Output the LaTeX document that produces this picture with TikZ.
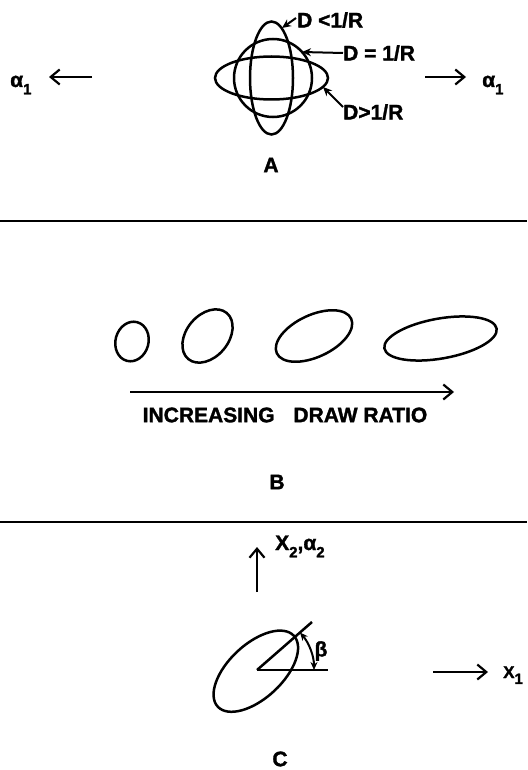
\documentclass[tikz,border=0pt]{standalone}
\usepackage{fontspec}
\setmainfont{Liberation Sans}[BoldFeatures={FakeBold=1.5}]
\usetikzlibrary{arrows.meta}
\newcommand\sbs[1]{\raisebox{-0.35em}{\fontsize{15}{15}\selectfont #1}}
\begin{document}
\begin{tikzpicture}[x=1pt,y=1pt,
  lbl/.style={font=\fontsize{21}{21}\selectfont\bfseries, inner sep=0pt},
  slbl/.style={font=\fontsize{17}{17}\selectfont\bfseries, inner sep=0pt},
  shp/.style={line width=2.5pt},
  sep/.style={line width=2.6pt},
  ax/.style={line width=2.2pt, -{Straight Barb[length=9pt,width=15pt,line width=2.2pt]}},
  ptr/.style={line width=2pt, -{Stealth[length=9pt,width=8pt]}},
  dptr/.style={line width=2pt, {Stealth[length=8pt,width=7pt]}-{Stealth[length=8pt,width=7pt]}},
]
\useasboundingbox (0,0) rectangle (527,-770);
% ---------------- Part A
\draw[shp] (271.5,-78) ellipse[x radius=56.5, y radius=21.5];
\draw[shp] (271.5,-78) ellipse[x radius=21.5, y radius=56.5];
\draw[shp] (273,-78) circle[radius=39];
\coordinate (pv) at (282,-28);
\coordinate (pc) at (302,-52);
\coordinate (ph) at (323,-87);
\node[lbl, anchor=west] (lv) at (297,-20) {D <1/R};
\node[lbl, anchor=west] (lc) at (343,-53) {D = 1/R};
\node[lbl, anchor=west] (lh) at (343,-112) {D>1/R};
\draw[ptr] ([xshift=-1pt,yshift=2pt]lv.west) -- (pv);
\draw[ptr] (lc.west) -- (pc);
\draw[ptr] ([yshift=5pt]lh.west) -- (ph);
\node[lbl] (la) at (271,-165) {A};
\node[lbl, anchor=base west] (al) at (10,-87) {α\sbs{1}};
\coordinate (al0) at (92,-77);
\coordinate (al1) at (49,-77);
\draw[ax] (al0) -- (al1);
\node[lbl, anchor=base west] (ar) at (482,-87) {α\sbs{1}};
\coordinate (ar0) at (425,-77);
\coordinate (ar1) at (466,-77);
\draw[ax] (ar0) -- (ar1);
% separators
\coordinate (s1a) at (0,-221); \coordinate (s1b) at (527,-221);
\coordinate (s2a) at (0,-522); \coordinate (s2b) at (527,-522);
\draw[sep] (s1a) -- (s1b);
\draw[sep] (s2a) -- (s2b);
% ---------------- Part B
\draw[shp, rotate around={75:(132,-341.5)}] (132,-341.5) ellipse[x radius=20, y radius=16.5];
\draw[shp, rotate around={50:(207.5,-336)}] (207.5,-336) ellipse[x radius=30, y radius=21];
\draw[shp, rotate around={25:(314,-336)}] (314,-336) ellipse[x radius=41, y radius=21];
\draw[shp, rotate around={10:(440.5,-338.5)}] (440.5,-338.5) ellipse[x radius=57, y radius=20];
\coordinate (b0) at (130,-392);
\coordinate (b1) at (454,-392);
\draw[ax] (b0) -- (b1);
\node[lbl] (bt) at (285,-415) {INCREASING\hspace{0.9em}DRAW RATIO};
\node[lbl] (lb) at (277,-482) {B};
% ---------------- Part C
\coordinate (o) at (257,-670);
\coordinate (h) at (328,-670);
\coordinate (d) at (312,-622);
\draw[shp, rotate around={43:(255.8,-671.2)}] (255.8,-671.2) ellipse[x radius=52, y radius=27];
\draw[shp] (o) -- (h);
\draw[shp] (o) -- (d);
\draw[dptr] ([shift={(0:57)}]o) arc[start angle=0, end angle=41, radius=57];
\node[lbl] (beta) at (321,-651) {β};
\coordinate (u0) at (257,-592);
\coordinate (u1) at (257,-547);
\draw[ax] (u0) -- (u1);
\node[lbl, anchor=base west] (x2) at (275,-550) {X\sbs{2},α\sbs{2}};
\coordinate (r0) at (433,-672);
\coordinate (r1) at (488,-672);
\draw[ax] (r0) -- (r1);
\node[slbl, anchor=base west] (x1) at (503,-678) {X\sbs{1}};
\node[lbl] (lc2) at (280,-759) {C};
\end{tikzpicture}
\end{document}
